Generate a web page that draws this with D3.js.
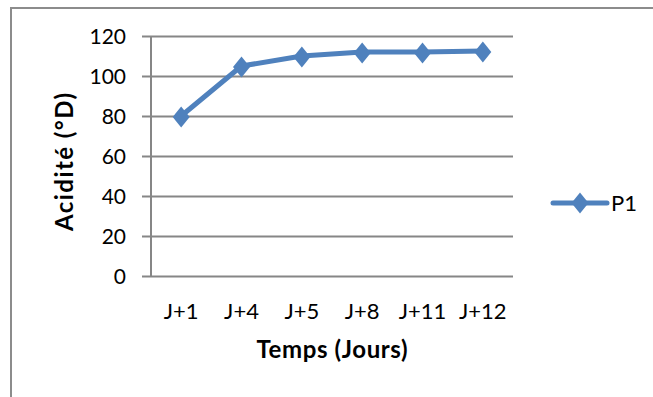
<!DOCTYPE html>
<html>
<head>
<meta charset="utf-8">
<script src="https://cdn.jsdelivr.net/npm/d3@7/dist/d3.min.js"></script>
<style>
  html, body { margin: 0; padding: 0; background: #fff; }
  svg { display: block; }
  text { font-family: Lato, "Open Sans", sans-serif; fill: #000; }
</style>
</head>
<body>
<svg id="chart" width="653" height="397"></svg>
<script>
// Acidity over time for sample P1
const days = ["J+1", "J+4", "J+5", "J+8", "J+11", "J+12"];
const acidity = [80, 105, 110, 112, 112, 112.5];
const yTicks = [0, 20, 40, 60, 80, 100, 120];
const seriesName = "P1";

const svg = d3.select("#chart");
const W = 653, H = 397;
const plot = { left: 151, right: 513, top: 36, bottom: 276 };
const blue = "#4f81bd";
const grid = "#868686";

// outer chart frame (runs off the right and bottom edges)
svg.append("path")
  .attr("d", `M11,${H + 5} V8 H${W + 5}`)
  .attr("fill", "none")
  .attr("stroke", "#8c8c8c")
  .attr("stroke-width", 2);

const x = d3.scaleBand().domain(days).range([plot.left, plot.right]);
const y = d3.scaleLinear().domain([0, 120]).range([plot.bottom, plot.top]);

// horizontal gridlines with short tick stubs on the left
const yAxis = d3.axisLeft(y).tickValues(yTicks).tickSize(plot.right - plot.left + 9).tickPadding(0).tickFormat("");
const gy = svg.append("g").attr("transform", `translate(${plot.right},0)`).call(yAxis);
gy.select(".domain").remove();
gy.selectAll(".tick line").attr("stroke", grid).attr("stroke-width", 2);

// y tick labels
svg.append("g").selectAll("text").data(yTicks).join("text")
  .attr("x", 126)
  .attr("y", d => y(d))
  .attr("dy", "0.36em")
  .attr("text-anchor", "end")
  .attr("font-size", 21)
  .text(d => d);

// vertical axis line
svg.append("line")
  .attr("x1", plot.left).attr("x2", plot.left)
  .attr("y1", plot.top).attr("y2", plot.bottom)
  .attr("stroke", grid).attr("stroke-width", 2);

// x axis category labels
const xAxis = d3.axisBottom(x).tickSize(0).tickPadding(0);
const gx = svg.append("g").attr("transform", `translate(0,${plot.bottom})`).call(xAxis);
gx.select(".domain").remove();
gx.selectAll(".tick text")
  .attr("font-family", "Lato, sans-serif")
  .attr("font-size", 22)
  .attr("fill", "#000")
  .attr("y", 0)
  .attr("dy", 43);

// axis titles
svg.append("text")
  .attr("x", (plot.left + plot.right) / 2)
  .attr("y", 358)
  .attr("text-anchor", "middle")
  .attr("font-weight", "bold")
  .attr("font-size", 24)
  .attr("textLength", 151)
  .attr("lengthAdjust", "spacing")
  .text("Temps (Jours)");

svg.append("text")
  .attr("transform", "translate(73,162) rotate(-90)")
  .attr("text-anchor", "middle")
  .attr("font-weight", "bold")
  .attr("font-size", 24)
  .attr("textLength", 138)
  .attr("lengthAdjust", "spacing")
  .text("Acidité (°D)");

// series line and diamond markers
const cx = d => x(d) + x.bandwidth() / 2;
const pts = days.map((d, i) => [cx(d), y(acidity[i])]);
svg.append("path")
  .attr("d", d3.line()(pts))
  .attr("fill", "none")
  .attr("stroke", blue)
  .attr("stroke-width", 5)
  .attr("stroke-linejoin", "round");

const diamond = "M0,-10.5L8.5,0L0,10.5L-8.5,0Z";
svg.append("g").selectAll("path").data(pts).join("path")
  .attr("transform", p => `translate(${p[0]},${p[1] + 1})`)
  .attr("d", diamond)
  .attr("fill", blue);

// legend
const lg = svg.append("g");
lg.append("line")
  .attr("x1", 553).attr("x2", 607).attr("y1", 203).attr("y2", 203)
  .attr("stroke", blue).attr("stroke-width", 5).attr("stroke-linecap", "round");
lg.append("path")
  .attr("transform", "translate(580,203)")
  .attr("d", diamond)
  .attr("fill", blue);
lg.append("text")
  .attr("x", 611).attr("y", 211)
  .attr("font-size", 22)
  .text(seriesName);
</script>
</body>
</html>
